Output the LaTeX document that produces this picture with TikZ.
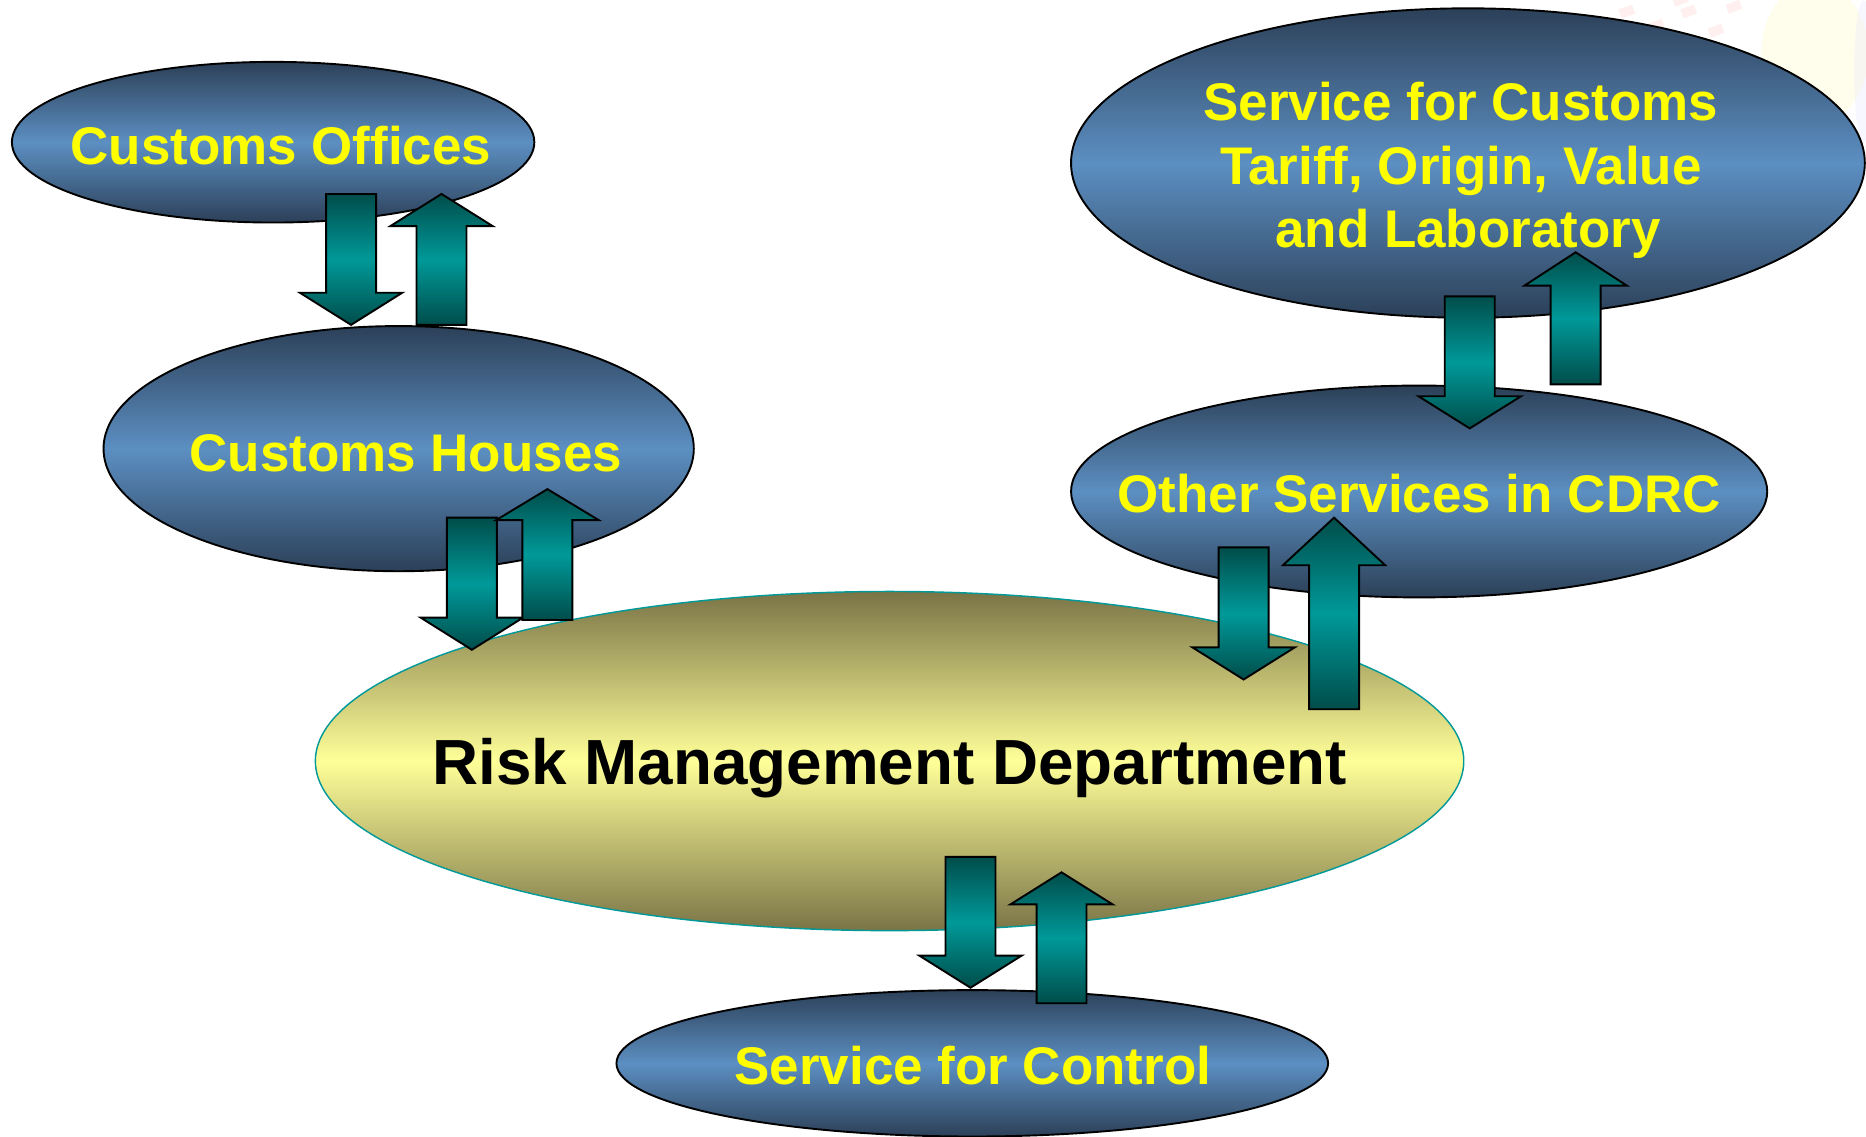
\documentclass[tikz,border=0pt]{standalone}
\usepackage{fontspec}
\setmainfont{Liberation Sans}
\usetikzlibrary{shapes.geometric}
\definecolor{bdark}{RGB}{44,64,88}
\definecolor{blight}{RGB}{92,143,194}
\definecolor{adark}{RGB}{0,77,74}
\definecolor{alight}{RGB}{0,153,153}
\definecolor{ylight}{RGB}{255,255,153}
\definecolor{ydark}{RGB}{122,116,70}
\definecolor{yborder}{RGB}{0,153,153}
\definecolor{ltext}{RGB}{255,255,0}
\tikzset{
  blueell/.style={ellipse, draw=black, line width=1.6, inner sep=0pt,
    top color=bdark, bottom color=bdark, middle color=blight},
  yellell/.style={ellipse, draw=yborder, line width=1.2, inner sep=0pt,
    top color=ydark, bottom color=ydark, middle color=ylight},
  lbl/.style={anchor=base, text=ltext, inner sep=0pt,
    font=\fontsize{44.5}{53}\selectfont\bfseries},
  biglbl/.style={anchor=base, text=black, inner sep=0pt,
    font=\fontsize{53.6}{64}\selectfont\bfseries},
  arrowsty/.style={draw=black, line width=1.6, line join=miter,
    top color=adark, bottom color=adark, middle color=alight},
  deco/.style={fill=red!50, opacity=0.12, draw=none},
}
\newcommand\blockarr[4]{%
  \shade[arrowsty] ({#1-21},#2) -- ({#1+21},#2) -- ({#1+21},#3) -- ({#1+43},#3)
    -- (#1,#4) -- ({#1-43},#3) -- ({#1-21},#3) -- cycle;}
\begin{document}
\begin{tikzpicture}[x=1pt,y=-1pt]
\useasboundingbox (0,0) rectangle (1568,954.6);
\fill[white] (0,0) rectangle (1568,954.6);
% faint background decoration (top right)
\fill[yellow!40, opacity=0.18] (1525,45) ellipse (45 and 60);
\fill[blue!10, opacity=0.3] (1566,60) ellipse (8 and 60);
\foreach \px/\py in {1360/8,1385/20,1412/8,1435/24,1380/32,1450/4,1405/-2}
  \fill[deco, rotate around={20:(\px,\py)}] (\px,\py) rectangle ++(12,8);

% ellipses
\node[blueell, minimum width=439pt, minimum height=135pt] (offices) at (229.5,119.5) {};
\node[blueell, minimum width=496pt, minimum height=206pt] (houses) at (335,377) {};
\node[blueell, minimum width=667pt, minimum height=260pt] (tariff) at (1233.5,137) {};
\node[blueell, minimum width=585pt, minimum height=178pt] (other) at (1192.5,413) {};
\node[yellell, minimum width=965pt, minimum height=285pt] (risk) at (747.5,639.5) {};
\node[blueell, minimum width=598pt, minimum height=123pt] (control) at (817,893.5) {};

% labels
\node[lbl] (toffices) at (236,138) {Customs Offices};
\node[lbl] (thouses) at (341,396) {Customs Houses};
\node[lbl] (ttariffa) at (1227.5,101) {Service for Customs};
\node[lbl] (ttariffb) at (1227.5,155) {Tariff, Origin, Value};
\node[lbl] (ttariffc) at (1233.5,208) {and Laboratory};
\node[lbl] (tother) at (1192.5,431) {Other Services in CDRC};
\node[biglbl] (trisk) at (747.5,659) {Risk Management Department};
\node[lbl] (tcontrol) at (817.5,911) {Service for Control};

% block arrows: {x centre}{shaft end}{head base}{tip}
\blockarr{295}{163}{246}{273}
\blockarr{371}{273}{190}{163}
\blockarr{396.5}{435}{519}{546}
\blockarr{460}{521}{437}{411}
\blockarr{1235}{249}{333}{360}
\blockarr{1324}{323}{240}{212}
\blockarr{1045}{460}{544}{571}
\blockarr{1121}{596}{475}{435}
\blockarr{815.5}{720}{803}{830}
\blockarr{892}{843}{760}{733}
\end{tikzpicture}
\end{document}
